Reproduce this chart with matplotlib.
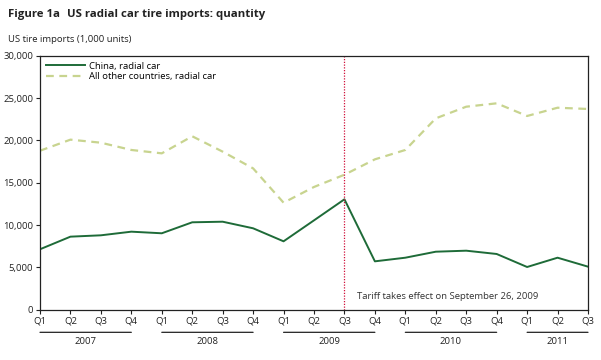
import numpy as np
import matplotlib.pyplot as plt

plt.rcParams['font.family'] = ['Open Sans', 'DejaVu Sans']

quarters = ['Q1', 'Q2', 'Q3', 'Q4'] * 4 + ['Q1', 'Q2', 'Q3']
years = ['2007', '2008', '2009', '2010', '2011']
china = [7130, 8620, 8780, 9210, 9020, 10320, 10390, 9610, 8070, 10550,
         13040, 5700, 6130, 6840, 6960, 6570, 5030, 6130, 5070]
others = [18790, 20100, 19740, 18880, 18480, 20500, 18680, 16700, 12640, 14500,
          15950, 17770, 18880, 22620, 24000, 24400, 22900, 23880, 23730]
tariff_idx = 10  # Q3 2009

fig = plt.figure(figsize=(6.01, 3.60), dpi=100)
ax = fig.add_axes([40 / 601, 1 - 309.5 / 360, 548 / 601, 253.5 / 360])

x = np.arange(len(china))
ax.plot(x, china, color='#1e6b38', lw=1.4, label='China, radial car')
ax.plot(x, others, color='#c8d48f', lw=1.6, ls=(0, (3.5, 2.5)),
        label='All other countries, radial car')
ax.axvline(tariff_idx, color='#d0103a', lw=0.9, ls=(0, (1, 1.2)))
ax.text(tariff_idx + 0.4, 1500, 'Tariff takes effect on September 26, 2009',
        fontsize=6.8, color='#333333', va='center')

ax.set_xlim(0, len(china) - 1)
ax.set_ylim(0, 30000)
ax.set_yticks(np.arange(0, 30001, 5000))
ax.set_yticklabels([f'{v:,}' for v in range(0, 30001, 5000)])
ax.set_xticks(x)
ax.set_xticklabels(quarters)
ax.tick_params(labelsize=6.8, colors='#222222', length=3, width=0.8, pad=2)
for s in ax.spines.values():
    s.set_linewidth(0.9)
    s.set_color('#222222')

leg = ax.legend(loc='upper left', frameon=False, fontsize=6.8, handlelength=4.2,
                handletextpad=0.35, labelspacing=0.15, borderaxespad=0.2,
                bbox_to_anchor=(0.0, 1.0))

# year brackets under the quarter labels
for i, yr in enumerate(years):
    start = i * 4
    end = min(start + 3, len(china) - 1)
    ax.annotate('', xy=(start, -0.09), xytext=(end, -0.09),
                xycoords=('data', 'axes fraction'),
                arrowprops=dict(arrowstyle='-', lw=0.9, color='#222222',
                                shrinkA=0, shrinkB=0))
    ax.text((start + end) / 2, -0.125, yr, transform=ax.get_xaxis_transform(),
            ha='center', va='center', fontsize=6.8, color='#222222')

fig.text(8 / 601, 1 - 14 / 360, 'Figure 1a', fontsize=8.2, fontweight='bold',
         color='#222222', va='center')
fig.text(67 / 601, 1 - 14 / 360, 'US radial car tire imports: quantity', fontsize=8.2,
         fontweight='bold', color='#222222', va='center')
fig.text(8 / 601, 1 - 40 / 360, 'US tire imports (1,000 units)', fontsize=6.8,
         color='#222222', va='center')

fig.savefig('out.png', dpi=100)
